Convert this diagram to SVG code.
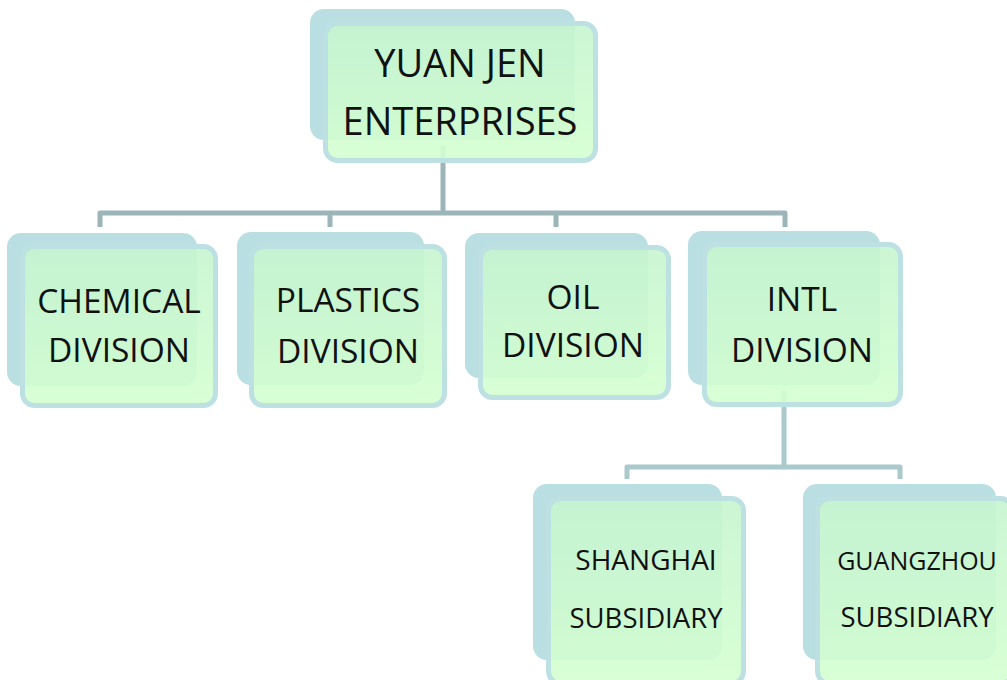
<svg xmlns="http://www.w3.org/2000/svg" width="1007" height="680" viewBox="0 0 1007 680">
<defs>
<linearGradient id="fg" x1="0" y1="0" x2="0" y2="1">
<stop offset="0" stop-color="#c6f5cf"/>
<stop offset="1" stop-color="#d4ffd0"/>
</linearGradient>
<style>
.back{fill:#badfe2}
.front{fill:url(#fg);fill-opacity:0.9;stroke:#bde0e3;stroke-width:5}
.conn{fill:none;stroke:#9bb5b8;stroke-width:5;stroke-linejoin:round}
.conn2{fill:none;stroke:#a9c9cc;stroke-width:5;stroke-linejoin:round}
text{font-family:"Open Sans","Noto Sans",sans-serif;fill:#111;text-anchor:middle}
.t1{font-size:38px}
.t2{font-size:33.5px}
.t3{font-size:27.5px}
.t4{font-size:25px}
.t5{font-size:28px}
</style>
</defs>
<g id="connectors">
<path class="conn" d="M443 146 V213"/>
<path class="conn" d="M100 227 V213 H785 V227"/>
<path class="conn" d="M330 213 V227 M556 213 V227"/>
<path class="conn2" d="M784 391 V467"/>
<path class="conn2" d="M627 479 V467 H900 V479"/>
</g>
<g id="yuan-jen">
<rect class="back" x="310" y="9" width="265" height="131" rx="14"/>
<rect class="front" x="325.5" y="23.5" width="270" height="137" rx="12"/>
<text class="t1" x="460" y="77">YUAN JEN</text>
<text class="t1" x="460" y="135">ENTERPRISES</text>
</g>
<g id="chemical">
<rect class="back" x="7" y="233" width="190" height="153" rx="14"/>
<rect class="front" x="22.5" y="246.5" width="193" height="159" rx="12"/>
<text class="t2" x="119" y="313">CHEMICAL</text>
<text class="t2" x="119" y="362">DIVISION</text>
</g>
<g id="plastics">
<rect class="back" x="237" y="232" width="187" height="153" rx="14"/>
<rect class="front" x="251.5" y="246.5" width="193" height="159" rx="12"/>
<text class="t2" x="348" y="312">PLASTICS</text>
<text class="t2" x="348" y="363">DIVISION</text>
</g>
<g id="oil">
<rect class="back" x="465" y="233" width="183" height="145" rx="14"/>
<rect class="front" x="480.5" y="247.5" width="188" height="150" rx="12"/>
<text class="t2" x="573" y="309">OIL</text>
<text class="t2" x="573" y="357">DIVISION</text>
</g>
<g id="intl">
<rect class="back" x="688" y="231" width="192" height="154" rx="14"/>
<rect class="front" x="704.5" y="244.5" width="196" height="160" rx="12"/>
<text class="t2" x="802" y="311">INTL</text>
<text class="t2" x="802" y="362">DIVISION</text>
</g>
<g id="shanghai">
<rect class="back" x="533" y="484" width="189" height="176" rx="14"/>
<rect class="front" x="548.5" y="498.5" width="195" height="185" rx="12"/>
<text class="t5" x="646" y="570">SHANGHAI</text>
<text class="t3" x="646" y="628">SUBSIDIARY</text>
</g>
<g id="guangzhou">
<rect class="back" x="803" y="484" width="193" height="176" rx="14"/>
<rect class="front" x="817.5" y="498.5" width="195" height="185" rx="12"/>
<text class="t4" x="917" y="570">GUANGZHOU</text>
<text class="t3" x="917" y="627">SUBSIDIARY</text>
</g>
</svg>
